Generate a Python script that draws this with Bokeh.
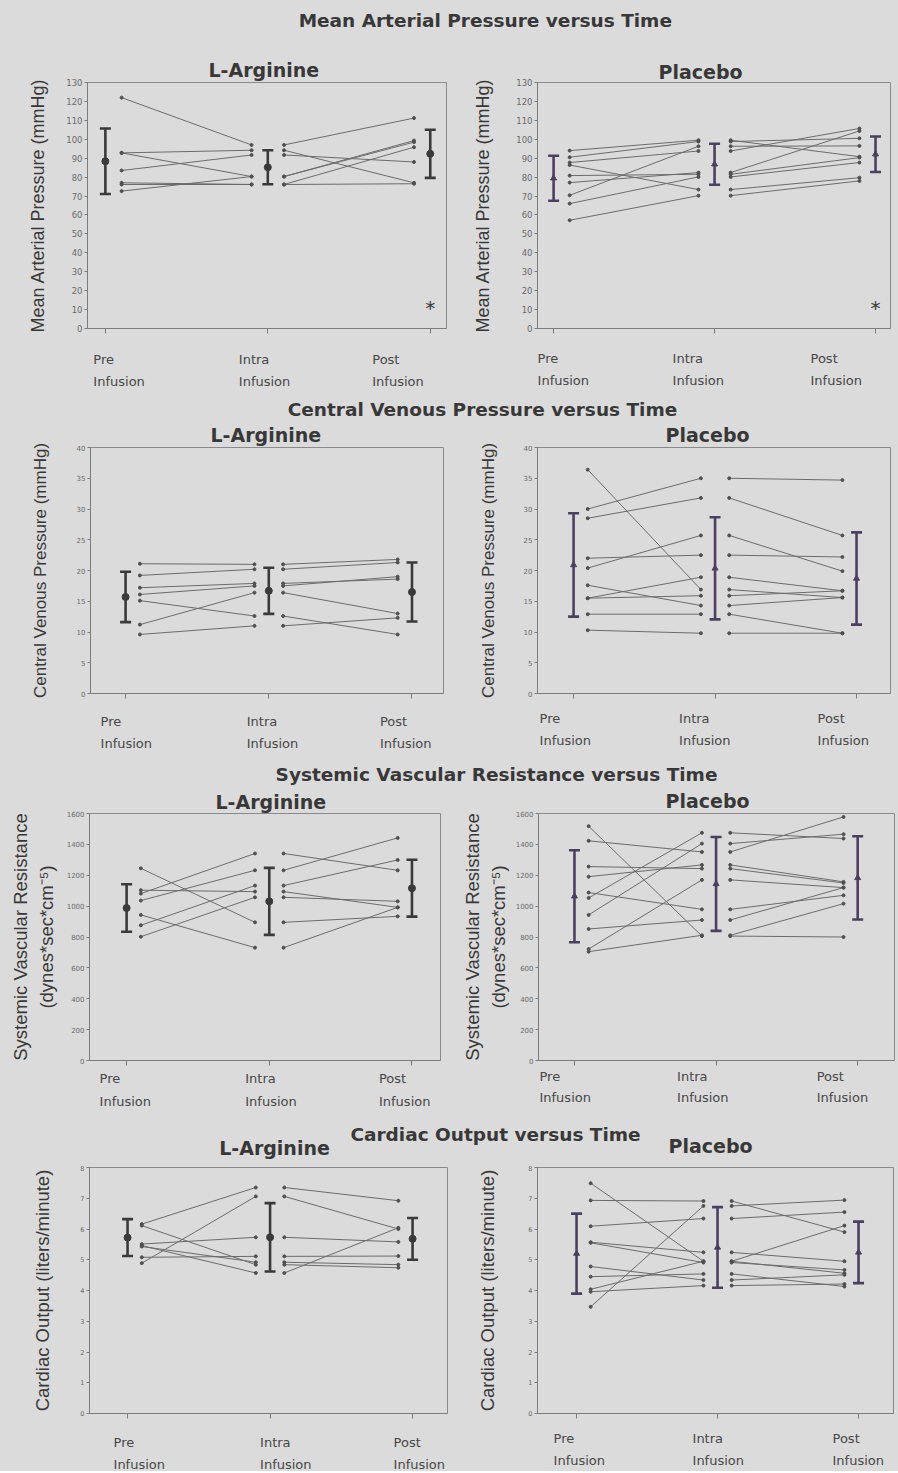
import numpy as np
from bokeh.plotting import figure
from bokeh.models import Range1d, FixedTicker, LinearAxis, Label, ColumnDataSource, Title
from bokeh.layouts import column, row
from bokeh.embed import file_html
from bokeh.resources import INLINE

# ------------------------------------------------------------------ data
time_points = ["Pre", "Intra", "Post"]
time_word = "Infusion"
group_names = ["L-Arginine", "Placebo"]
row_titles = ["Mean Arterial Pressure  versus Time",
              "Central Venous Pressure versus Time",
              "Systemic Vascular Resistance versus Time",
              "Cardiac Output versus Time"]
y_labels = [["Mean Arterial Pressure (mmHg)"],
            ["Central Venous Pressure (mmHg)"],
            ["Systemic Vascular Resistance", "(dynes*sec*cm\u207b\u2075)"],
            ["Cardiac Output (liters/minute)"]]
y_max = [130, 40, 1600, 8]
y_step = [10, 5, 200, 1]

# Mean arterial pressure (mmHg)
map_arg_pre = [122.0, 92.8, 92.8, 83.5, 77.0, 76.1, 72.6]
map_arg_intra = [97.0, 94.2, 80.3, 91.7, 76.1, 76.1, 80.3]
map_arg_post = [111.2, 77.0, 99.3, 88.0, 95.8, 76.5, 98.5]
map_arg_mean = [88.4, 85.2, 92.3]
map_arg_sd = [17.3, 9.0, 12.7]
map_pla_pre = [94.0, 90.5, 87.7, 86.4, 80.8, 77.1, 70.4, 66.0, 57.2]
map_pla_intra = [99.5, 98.8, 93.8, 73.4, 81.5, 82.4, 96.3, 80.1, 70.2]
map_pla_post = [90.8, 100.5, 105.7, 79.7, 90.3, 104.4, 96.5, 87.7, 78.0]
map_pla_mean = [79.4, 86.8, 92.1]
map_pla_sd = [11.9, 10.8, 9.4]

# Central venous pressure (mmHg)
cvp_arg_pre = [21.1, 19.2, 17.2, 16.1, 15.1, 11.2, 9.6]
cvp_arg_intra = [21.0, 20.2, 17.9, 17.5, 12.6, 16.4, 11.0]
cvp_arg_post = [21.8, 21.3, 18.6, 19.0, 9.6, 13.0, 12.3]
cvp_arg_mean = [15.7, 16.7, 16.5]
cvp_arg_sd = [4.1, 3.75, 4.8]
cvp_pla_pre = [36.4, 30.0, 28.5, 22.0, 20.4, 17.6, 15.5, 15.5, 12.9, 10.3]
cvp_pla_intra = [16.9, 35.0, 31.8, 22.5, 25.7, 14.3, 18.9, 15.9, 12.9, 9.8]
cvp_pla_post = [15.6, 34.7, 25.7, 22.2, 19.9, 15.6, 16.7, 16.7, 9.8, 9.8]
cvp_pla_mean = [20.9, 20.35, 18.7]
cvp_pla_sd = [8.4, 8.3, 7.5]

# Systemic vascular resistance (dynes*sec*cm^-5)
svr_arg_pre = [1245, 1103, 1081, 1036, 943, 876, 802]
svr_arg_intra = [895, 1094, 1341, 1232, 731, 1133, 1057]
svr_arg_post = [934, 992, 1232, 1442, 992, 1299, 1031]
svr_arg_mean = [988, 1031, 1116]
svr_arg_sd = [154, 217, 184]
svr_pla_pre = [1518, 1423, 1256, 1191, 1088, 1053, 943, 852, 722, 705]
svr_pla_intra = [806, 1351, 1243, 1267, 979, 1475, 1405, 910, 1170, 811]
svr_pla_post = [800, 1578, 1150, 1157, 1070, 1438, 1466, 1120, 1120, 1016]
svr_pla_mean = [1064, 1144, 1183]
svr_pla_sd = [298, 304, 270]

# Cardiac output (liters/minute)
co_arg_pre = [6.16, 6.11, 5.51, 5.46, 5.43, 5.08, 4.89]
co_arg_intra = [7.35, 4.84, 5.73, 4.57, 4.92, 5.11, 7.06]
co_arg_post = [6.92, 4.74, 5.58, 6.04, 4.84, 5.12, 6.00]
co_arg_mean = [5.72, 5.73, 5.68]
co_arg_sd = [0.60, 1.11, 0.68]
co_pla_pre = [7.49, 6.93, 6.09, 5.57, 5.55, 4.78, 4.45, 4.04, 3.96, 3.47]
co_pla_intra = [4.95, 6.91, 6.34, 5.24, 4.91, 4.34, 4.54, 4.95, 4.16, 6.75]
co_pla_post = [4.56, 5.90, 6.55, 4.95, 4.67, 4.51, 4.13, 6.11, 4.21, 6.94]
co_pla_mean = [5.20, 5.40, 5.24]
co_pla_sd = [1.30, 1.31, 1.00]

star_text = "*"

panels_data = [
    [(map_arg_pre, map_arg_intra, map_arg_post, map_arg_mean, map_arg_sd),
     (map_pla_pre, map_pla_intra, map_pla_post, map_pla_mean, map_pla_sd)],
    [(cvp_arg_pre, cvp_arg_intra, cvp_arg_post, cvp_arg_mean, cvp_arg_sd),
     (cvp_pla_pre, cvp_pla_intra, cvp_pla_post, cvp_pla_mean, cvp_pla_sd)],
    [(svr_arg_pre, svr_arg_intra, svr_arg_post, svr_arg_mean, svr_arg_sd),
     (svr_pla_pre, svr_pla_intra, svr_pla_post, svr_pla_mean, svr_pla_sd)],
    [(co_arg_pre, co_arg_intra, co_arg_post, co_arg_mean, co_arg_sd),
     (co_pla_pre, co_pla_intra, co_pla_post, co_pla_mean, co_pla_sd)],
]

# ------------------------------------------------------------------ style
BG = "#dbdbdb"
TXT = "#383838"
LINE_C = "#6c6c6c"
BAR_C = ["#3a3a3a", "#4b405e"]
HEAD_FONT = "DejaVu Sans"
YLAB_FONT = "Liberation Sans"
TOTAL_W = 898
BG_STYLE = {"background-color": BG}

# head_subs: group titles drawn in the header strip (else as panel titles)
row_style = [
    dict(head_h=38, title=(488, 20), head_subs=None, pw=[470, 428], top=44, fh=246,
         bottom=8, lab_h=60, tick_fs="8.5px", ylab_fs="18px", star=True),
    dict(head_h=23, title=(482, 13), head_subs=None, pw=[470, 428], top=28, fh=246,
         bottom=6, lab_h=61, tick_fs="7px", ylab_fs="17px", star=False),
    dict(head_h=26, title=(496, 14), head_subs=None, pw=[456, 442], top=27, fh=247,
         bottom=6, lab_h=54, tick_fs="7px", ylab_fs="18.5px", star=False),
    dict(head_h=45, title=(495, 14), head_subs=[(274, 27), (710, 25)], pw=[470, 428],
         top=2, fh=246, bottom=6, lab_h=52, tick_fs="6.5px", ylab_fs="18.5px", star=False),
]
panel_style = [
    [dict(bl=87, br=24, xr=(0.89, 3.10), sub=(121, 3), lx=[-12, -29, -58], ly=[23, 45], so=[15]),
     dict(bl=67, br=8, xr=(0.90, 3.093), sub=(121, 0), lx=[-16, -42, -65], ly=[22, 44], so=[20])],
    [dict(bl=90, br=27, xr=(0.755, 3.22), sub=(120, 3), lx=[-25, -22, -32], ly=[22, 44], so=[24]),
     dict(bl=67, br=8, xr=(0.745, 3.24), sub=(128, 4), lx=[-34, -36, -39], ly=[19, 41], so=[23])],
    [dict(bl=89, br=16, xr=(0.74, 3.20), sub=(126, 1), lx=[-27, -24, -33], ly=[12, 35], so=[7, 2]),
     dict(bl=82, br=4, xr=(0.746, 3.26), sub=(127, 3), lx=[-35, -39, -41], ly=[10, 31], so=[4, 2])],
    [dict(bl=89, br=23, xr=(0.733, 3.245), sub=None, lx=[-14, -10, -19], ly=[23, 45], so=[24]),
     dict(bl=67, br=5, xr=(0.723, 3.248), sub=None, lx=[-23, -25, -26], ly=[19, 41], so=[27])],
]
SEG_OFF = 0.1
STAR_Y = 15.7
SUB_FS = "19px"


def blank_fig(width, height, x_range, **kw):
    return figure(width=width, height=height, x_range=x_range, y_range=Range1d(0, height),
                  x_axis_type=None, y_axis_type=None, toolbar_location=None,
                  output_backend="svg", background_fill_color=BG, border_fill_color=BG,
                  outline_line_color=None, **kw)


def header(ri):
    rs = row_style[ri]
    h = rs["head_h"]
    s = blank_fig(TOTAL_W, h, Range1d(0, TOTAL_W), min_border=0)
    tx, ty = rs["title"]
    s.add_layout(Label(x=tx, y=h - ty, text=row_titles[ri], text_align="center",
                       text_baseline="middle", text_font=HEAD_FONT, text_font_style="bold",
                       text_font_size="18.5px", text_color=TXT))
    if rs["head_subs"]:
        for gi, (sx, sy) in enumerate(rs["head_subs"]):
            s.add_layout(Label(x=sx, y=h - sy, text=group_names[gi], text_align="center",
                               text_baseline="middle", text_font=HEAD_FONT,
                               text_font_style="bold", text_font_size=SUB_FS, text_color=TXT))
    return s


def panel(ri, gi):
    rs = row_style[ri]
    st = panel_style[ri][gi]
    pre, intra, post, mean, sd = panels_data[ri][gi]
    width = rs["pw"][gi]
    height = rs["top"] + rs["fh"] + rs["bottom"]
    xr = Range1d(*st["xr"])
    p = figure(width=width, height=height, x_range=xr,
               y_range=Range1d(0, y_max[ri]), x_axis_type=None, y_axis_type=None,
               toolbar_location=None, output_backend="svg",
               min_border_left=st["bl"], min_border_right=st["br"],
               min_border_top=rs["top"], min_border_bottom=rs["bottom"],
               background_fill_color=BG, border_fill_color=BG,
               outline_line_color="#8a8a8a", outline_line_width=1)

    if st["sub"] is not None:
        p.add_layout(Title(text=group_names[gi], align="left", offset=st["sub"][0],
                           vertical_align="bottom", standoff=st["sub"][1],
                           text_font=HEAD_FONT, text_font_style="bold",
                           text_font_size=SUB_FS, text_color=TXT), "above")

    labels = y_labels[ri]
    yt = list(np.arange(0, y_max[ri] + y_step[ri] * 0.5, y_step[ri]))
    yax = LinearAxis(ticker=FixedTicker(ticks=yt), axis_label=labels[-1],
                     axis_line_color="#7c7c7c", major_tick_line_color="#7c7c7c",
                     major_tick_out=3, major_tick_in=0, minor_tick_line_color=None,
                     major_label_standoff=2, major_label_text_font=HEAD_FONT,
                     major_label_text_font_size=rs["tick_fs"], major_label_text_color="#6a6a6a",
                     axis_label_standoff=st["so"][0], axis_label_text_font=YLAB_FONT,
                     axis_label_text_font_style="normal", axis_label_text_font_size=rs["ylab_fs"],
                     axis_label_text_color=TXT)
    p.add_layout(yax, "left")
    if len(labels) > 1:
        yax2 = LinearAxis(ticker=FixedTicker(ticks=[]), axis_label=labels[0],
                          axis_line_color=None, major_tick_line_color=None,
                          minor_tick_line_color=None, major_label_text_font_size="0px",
                          axis_label_standoff=st["so"][1], axis_label_text_font=YLAB_FONT,
                          axis_label_text_font_style="normal",
                          axis_label_text_font_size=rs["ylab_fs"], axis_label_text_color=TXT)
        p.add_layout(yax2, "left")

    xax = LinearAxis(ticker=FixedTicker(ticks=[1, 2, 3]),
                     major_label_overrides={1: "", 2: "", 3: ""},
                     major_label_text_font_size="0px", major_label_standoff=0,
                     axis_line_color="#7c7c7c", major_tick_line_color="#7c7c7c",
                     major_tick_out=5, major_tick_in=0, minor_tick_line_color=None)
    p.add_layout(xax, "below")

    # individual subjects: pre -> intra and intra -> post
    n = len(pre)
    left = ColumnDataSource(dict(x0=[1 + SEG_OFF] * n, y0=pre, x1=[2 - SEG_OFF] * n, y1=intra))
    right = ColumnDataSource(dict(x0=[2 + SEG_OFF] * n, y0=intra, x1=[3 - SEG_OFF] * n, y1=post))
    for src in (left, right):
        p.segment(x0="x0", y0="y0", x1="x1", y1="y1", source=src, line_color=LINE_C, line_width=1)
        p.scatter(x="x0", y="y0", source=src, size=3, color="#505050")
        p.scatter(x="x1", y="y1", source=src, size=3, color="#505050")

    # mean +/- SD
    xs = [1, 2, 3]
    mean_a = np.array(mean, dtype=float)
    sd_a = np.array(sd, dtype=float)
    c = BAR_C[gi]
    p.segment(x0=xs, y0=mean_a - sd_a, x1=xs, y1=mean_a + sd_a, line_color=c, line_width=2.6)
    p.scatter(xs, mean_a + sd_a, marker="dash", size=11, line_width=2.6, line_color=c)
    p.scatter(xs, mean_a - sd_a, marker="dash", size=11, line_width=2.6, line_color=c)
    if gi == 0:
        p.scatter(xs, mean_a, marker="circle", size=7, color=c)
    else:
        p.scatter(xs, mean_a, marker="triangle", size=6, color=c)

    if rs["star"]:
        p.add_layout(Label(x=3, y=STAR_Y, y_offset=-9, text=star_text, text_align="center",
                           text_baseline="alphabetic", text_font=HEAD_FONT,
                           text_font_size="20px", text_color=TXT))

    # label strip under the panel, sharing the panel's x scale
    lab_h = rs["lab_h"]
    lab = blank_fig(width, lab_h, xr, min_border_left=st["bl"], min_border_right=st["br"],
                    min_border_top=0, min_border_bottom=0)
    for i, name in enumerate(time_points):
        for word, dy in ((name, st["ly"][0]), (time_word, st["ly"][1])):
            lab.add_layout(Label(x=i + 1, y=lab_h - dy, x_offset=st["lx"][i],
                                 text=word, text_align="left", text_baseline="middle",
                                 text_font=HEAD_FONT, text_font_size="13px",
                                 text_color="#474747"))
    return column(p, lab, styles=BG_STYLE)


items = []
for ri in range(4):
    items.append(header(ri))
    items.append(row(panel(ri, 0), panel(ri, 1), styles=BG_STYLE))

layout = column(*items, styles=BG_STYLE)
open("out.html", "w").write(file_html(layout, INLINE))
